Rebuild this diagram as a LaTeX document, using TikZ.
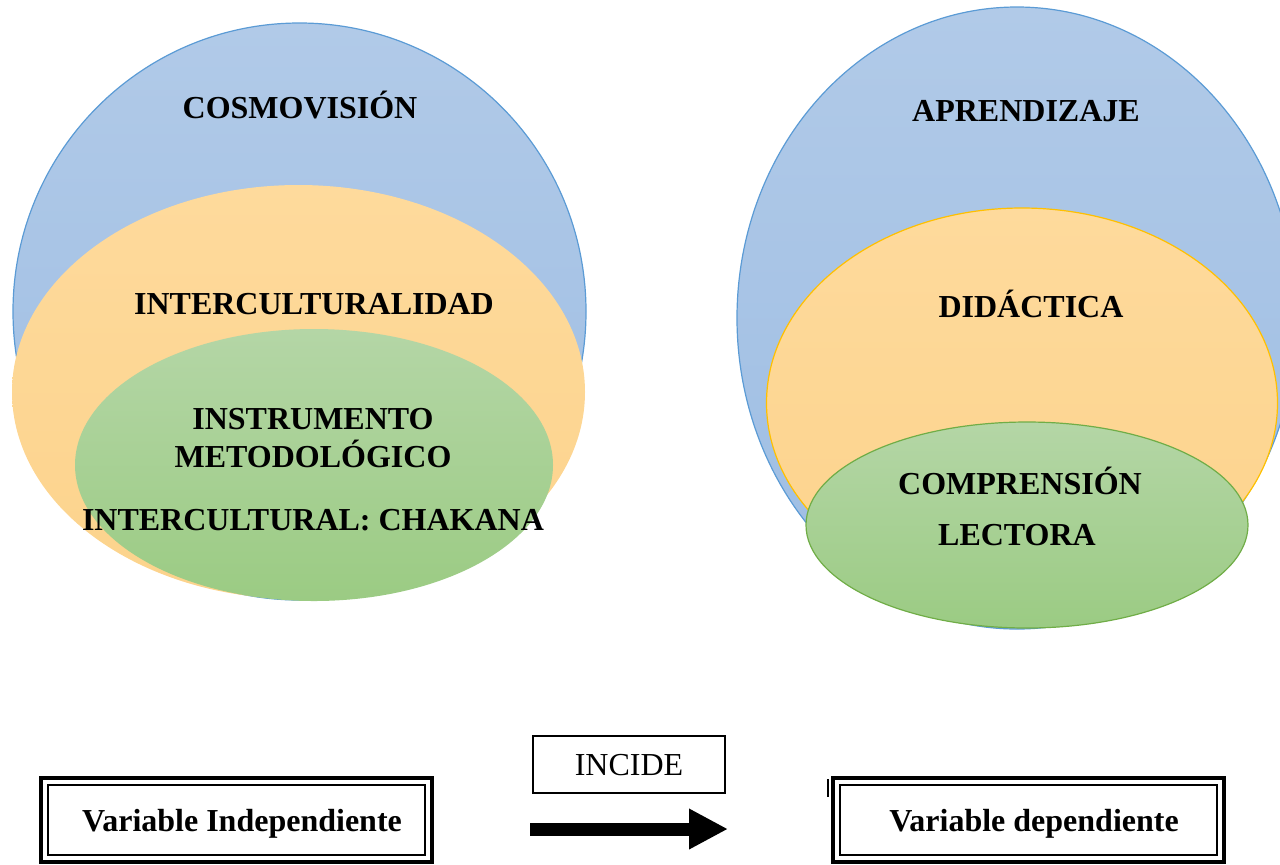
\documentclass[tikz,border=0pt]{standalone}
\usepackage{fontspec}
\setmainfont{Liberation Serif}
\usetikzlibrary{arrows.meta}
\definecolor{bluetop}{HTML}{B1CAE8}
\definecolor{bluebot}{HTML}{9DBDE3}
\definecolor{blueline}{HTML}{5B9BD5}
\definecolor{orantop}{HTML}{FEDA9C}
\definecolor{oranbot}{HTML}{FCD38C}
\definecolor{oranline}{HTML}{FFC000}
\definecolor{greentop}{HTML}{B4D6A6}
\definecolor{greenbot}{HTML}{9BCB83}
\definecolor{greenline}{HTML}{70AD47}
\tikzset{
  bluefill/.style={top color=bluetop,bottom color=bluebot,draw=blueline,line width=0.6pt},
  oranfill/.style={top color=orantop,bottom color=oranbot},
  greenfill/.style={top color=greentop,bottom color=greenbot},
  lbl/.style={anchor=base,inner sep=0pt,font=\fontsize{16}{19}\selectfont\bfseries},
  innerbox/.style={draw=black,line width=1pt,minimum width=188.5pt,minimum height=35pt,inner sep=0pt},
  outerbox/.style={draw=black,line width=2pt},
  incidebox/.style={draw=black,line width=0.6pt,minimum width=96pt,minimum height=28.5pt,inner sep=0pt},
}
\begin{document}
\begin{tikzpicture}[x=0.5pt,y=-0.5pt]
\useasboundingbox (0,0) rectangle (1280,864);
\begin{scope}
\clip (0,0) rectangle (1280,864);
% left set
\path[bluefill] (299.5,311.5) ellipse [x radius=286.5, y radius=288.5];
\path[oranfill] (298.5,392) ellipse [x radius=286.5, y radius=207];
\path[greenfill] (314,465) ellipse [x radius=239, y radius=136];
% right set
\path[bluefill] (1017,318) ellipse [x radius=280, y radius=311];
\path[oranfill,draw=oranline,line width=0.6pt] (1022,403) ellipse [x radius=255.5, y radius=195];
\path[greenfill,draw=greenline,line width=0.6pt] (1027,525) ellipse [x radius=221, y radius=103];
\end{scope}
% labels
\node[lbl] (cosmo) at (300,118) {COSMOVISIÓN};
\node[lbl] (inter) at (314,314) {INTERCULTURALIDAD};
\node[lbl] (instr) at (313,429) {INSTRUMENTO};
\node[lbl] (metod) at (313,467) {METODOLÓGICO};
\node[lbl] (chak) at (313,530) {INTERCULTURAL: CHAKANA};
\node[lbl] (aprend) at (1026,121) {APRENDIZAJE};
\node[lbl] (didac) at (1031,317) {DIDÁCTICA};
\node[lbl] (compr) at (1020,494) {COMPRENSIÓN};
\node[lbl] (lect) at (1017,545) {LECTORA};
% bottom boxes
\node[innerbox] (vi) at (236.5,820) {};
\draw[outerbox] ([shift={(-3pt,-3pt)}]vi.south west) rectangle ([shift={(3pt,3pt)}]vi.north east);
\node[lbl] (vitext) at (242,831) {Variable Independiente};
\node[innerbox] (vd) at (1028.5,820) {};
\draw[outerbox] ([shift={(-3pt,-3pt)}]vd.south west) rectangle ([shift={(3pt,3pt)}]vd.north east);
\node[lbl] (vdtext) at (1034,831) {Variable dependiente};
\node[incidebox] (incide) at (629,764.5) {};
\node[anchor=base,inner sep=0pt,font=\fontsize{16}{19}\selectfont] (incidetext) at (629,775) {INCIDE};
% arrow
\coordinate (arrowtail) at (530,829);
\coordinate (arrowtip) at (728,829);
\draw[line width=6.5pt,-{Triangle[length=19.5pt 0 0,width=19pt 0 0]}] (arrowtail) -- (arrowtip);
% stray cursor mark
\coordinate (marktop) at (828,779);
\coordinate (markbot) at (828,797);
\draw[line width=1pt] (marktop) -- (markbot);
\end{tikzpicture}
\end{document}
